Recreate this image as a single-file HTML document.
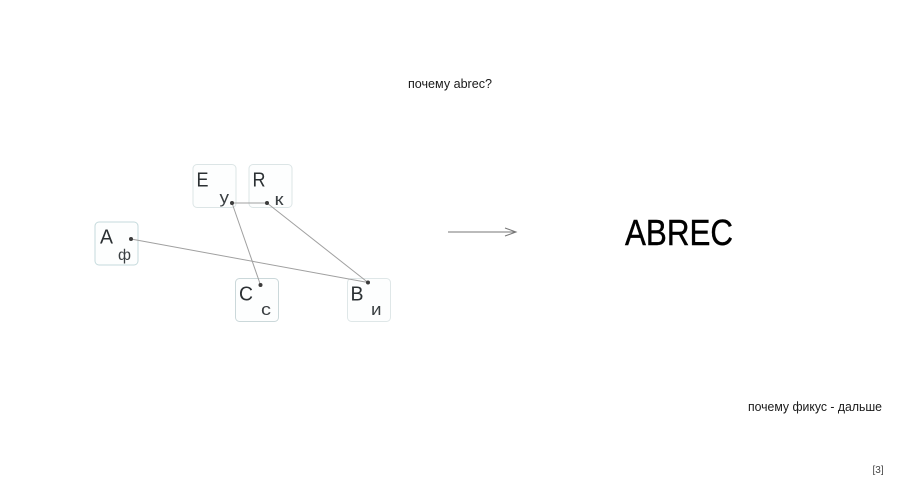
<!DOCTYPE html>
<html lang="ru">
<head>
<meta charset="utf-8">
<style>
html,body{margin:0;padding:0;background:#fff;width:900px;height:486px;overflow:hidden}
svg{display:block}
text{font-family:"Liberation Sans",sans-serif}
</style>
</head>
<body>
<svg width="900" height="486" viewBox="0 0 900 486" xmlns="http://www.w3.org/2000/svg">
<rect width="900" height="486" fill="#fff"/>
<g fill="#fdfefe" stroke="#dce5e6" stroke-width="1">
<rect x="193" y="164.500" width="43" height="43" rx="4"/>
<rect x="249" y="164.500" width="43" height="43" rx="4"/>
<rect x="95" y="222" width="43" height="43" rx="4" stroke="#c5dadc"/>
<rect x="235.500" y="278.500" width="43" height="43" rx="4" stroke="#cbd8da"/>
<rect x="347.500" y="278.500" width="43" height="43" rx="4" stroke="#dfe7e8"/>
</g>
<g fill="#2b3033" font-size="20.500">
<text x="196.500" y="186.500" textLength="12" lengthAdjust="spacingAndGlyphs">E</text>
<text x="252.500" y="186.500" textLength="13" lengthAdjust="spacingAndGlyphs">R</text>
<text x="100" y="243.500" textLength="13" lengthAdjust="spacingAndGlyphs">A</text>
<text x="239" y="300.500" textLength="14" lengthAdjust="spacingAndGlyphs">C</text>
<text x="350.500" y="300.500" textLength="13" lengthAdjust="spacingAndGlyphs">B</text>
</g>
<g fill="#3a3f42" font-size="16.500">
<text x="219.500" y="203" textLength="9.500" lengthAdjust="spacingAndGlyphs">у</text>
<text x="274.500" y="205" textLength="9" lengthAdjust="spacingAndGlyphs">к</text>
<text x="118" y="260" font-size="16" textLength="13" lengthAdjust="spacingAndGlyphs">ф</text>
<text x="261" y="315" textLength="10" lengthAdjust="spacingAndGlyphs">с</text>
<text x="371" y="315" textLength="10.500" lengthAdjust="spacingAndGlyphs">и</text>
</g>
<g stroke="#a0a0a0" stroke-width="1" fill="none">
<line x1="232" y1="203" x2="267" y2="203"/>
<line x1="232" y1="203" x2="260.500" y2="285"/>
<line x1="267" y1="203" x2="368" y2="282.500"/>
<line x1="131" y1="239" x2="368" y2="282.500"/>
</g>
<g fill="#3c3c3c">
<circle cx="232" cy="203" r="2"/>
<circle cx="267" cy="203" r="2"/>
<circle cx="131" cy="239" r="2"/>
<circle cx="260.500" cy="285" r="2"/>
<circle cx="368" cy="282.500" r="2"/>
</g>
<g stroke="#777" stroke-width="1" fill="none">
<line x1="448" y1="232" x2="516" y2="232"/>
<polyline points="505,228 516,232 505,236"/>
</g>
<text x="625" y="245" font-size="36" fill="#000" stroke="#000" stroke-width="0.400" textLength="108" lengthAdjust="spacingAndGlyphs">ABREC</text>
<text x="408" y="88" font-size="13" fill="#1a1a1a" textLength="84" lengthAdjust="spacingAndGlyphs">почему abrec?</text>
<text x="748" y="411" font-size="13" fill="#1a1a1a" textLength="134" lengthAdjust="spacingAndGlyphs">почему фикус - дальше</text>
<text x="872.500" y="473" font-size="10" fill="#444">[3]</text>
</svg>
</body>
</html>
